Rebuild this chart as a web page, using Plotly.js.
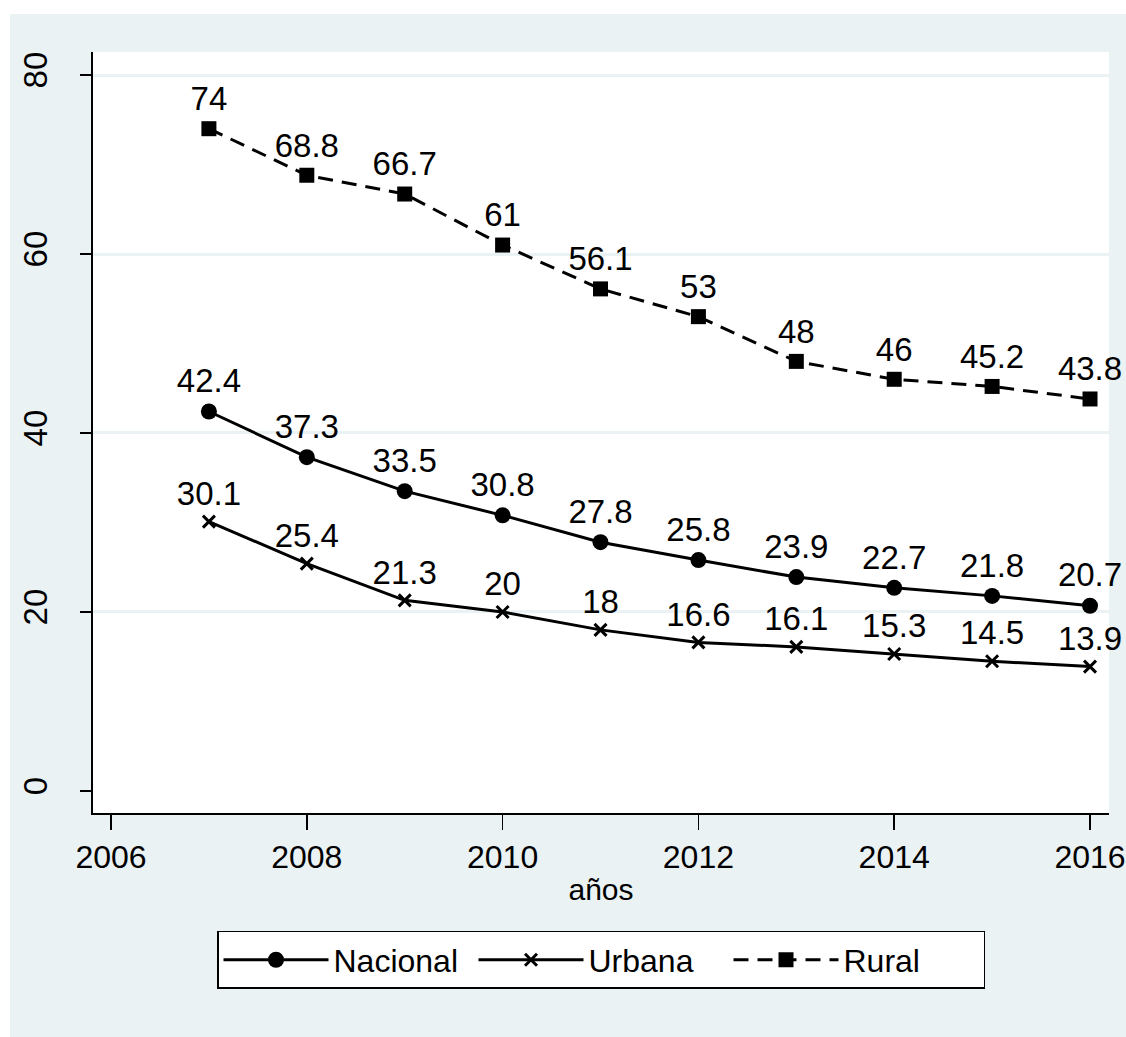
<!DOCTYPE html>
<html>
<head>
<meta charset="utf-8">
<script src="https://cdn.plot.ly/plotly-3.0.1.min.js"></script>
<style>
  html, body { margin: 0; padding: 0; background: #ffffff; width: 1126px; height: 1037px; overflow: hidden; }
  #chart { position: absolute; left: 10px; top: 14px; width: 1116px; height: 1023px; }
</style>
</head>
<body>
<div id="chart"></div>
<script>
const years = [2007, 2008, 2009, 2010, 2011, 2012, 2013, 2014, 2015, 2016];
const nacional = [42.4, 37.3, 33.5, 30.8, 27.8, 25.8, 23.9, 22.7, 21.8, 20.7];
const urbana = [30.1, 25.4, 21.3, 20, 18, 16.6, 16.1, 15.3, 14.5, 13.9];
const rural = [74, 68.8, 66.7, 61, 56.1, 53, 48, 46, 45.2, 43.8];
const seriesNames = ['Nacional', 'Urbana', 'Rural'];
const xTicks = [2006, 2008, 2010, 2012, 2014, 2016];
const yTicks = [0, 20, 40, 60, 80];
const gridTicks = [20, 40, 60, 80];
const xTitle = 'años';

const FONT = '"Liberation Sans", Arial, Helvetica, sans-serif';
const labelFont = { family: FONT, size: 33, color: '#000000' };
const fmt = v => String(v);

const traces = [
  {
    x: years, y: nacional, name: seriesNames[0], type: 'scatter', mode: 'lines+markers+text',
    line: { color: '#000000', width: 3 },
    marker: { symbol: 'circle', size: 16, color: '#000000' },
    text: nacional.map(fmt), textposition: 'top center', textfont: labelFont,
    cliponaxis: false
  },
  {
    x: years, y: urbana, name: seriesNames[1], type: 'scatter', mode: 'lines+markers+text',
    line: { color: '#000000', width: 3 },
    marker: { symbol: 'x-thin-open', size: 12, color: '#000000', line: { color: '#000000', width: 3 } },
    text: urbana.map(fmt), textposition: 'top center', textfont: labelFont,
    cliponaxis: false
  },
  {
    x: years, y: rural, name: seriesNames[2], type: 'scatter', mode: 'lines+markers+text',
    line: { color: '#000000', width: 3, dash: '15px,9px' },
    marker: { symbol: 'square', size: 15, color: '#000000' },
    text: rural.map(fmt), textposition: 'top center', textfont: labelFont,
    cliponaxis: false
  },
  {
    x: [years[0]], y: [rural[0]], xaxis: 'x', yaxis: 'y2', type: 'scatter', mode: 'markers',
    marker: { opacity: 0 }, showlegend: false, hoverinfo: 'skip'
  }
];

const yRange = [-2.46, 82.57];

const layout = {
  width: 1116, height: 1023,
  paper_bgcolor: '#EAF2F3',
  plot_bgcolor: '#ffffff',
  margin: { l: 83, r: 17, t: 38, b: 224 },
  font: { family: FONT, color: '#000000', size: 32 },
  showlegend: true,
  xaxis: {
    range: [2005.816, 2016.194],
    tickvals: xTicks,
    ticks: 'outside', ticklen: 15, tickwidth: 1.5, tickcolor: '#000000',
    showline: true, linecolor: '#000000', linewidth: 2,
    showgrid: false, zeroline: false,
    ticklabeloverflow: 'allow',
    tickfont: { family: FONT, size: 32, color: '#000000' },
    title: { text: xTitle, font: { family: FONT, size: 30, color: '#000000' }, standoff: 5 }
  },
  yaxis: {
    range: yRange,
    tickvals: yTicks,
    ticks: 'outside', ticklen: 11, tickwidth: 1.5, tickcolor: '#000000',
    showline: true, linecolor: '#000000', linewidth: 2,
    showgrid: false, zeroline: false,
    tickangle: -90,
    ticklabelstandoff: 20,
    tickfont: { family: FONT, size: 33, color: '#000000' }
  },
  yaxis2: {
    overlaying: 'y', range: yRange, tickvals: gridTicks,
    showgrid: true, gridcolor: '#EAF2F3', gridwidth: 3,
    showticklabels: false, ticks: '', showline: false, zeroline: false
  },
  legend: {
    orientation: 'h',
    x: 0.5, xanchor: 'center',
    y: -0.155, yanchor: 'top',
    bgcolor: '#ffffff', bordercolor: '#000000', borderwidth: 1.5,
    font: { family: FONT, size: 32, color: '#000000' },
    itemwidth: 105,
    entrywidth: 135,
    entrywidthmode: 'pixels',
    itemsizing: 'trace'
  }
};

Plotly.newPlot('chart', traces, layout, { displayModeBar: false, staticPlot: true });
</script>
</body>
</html>
